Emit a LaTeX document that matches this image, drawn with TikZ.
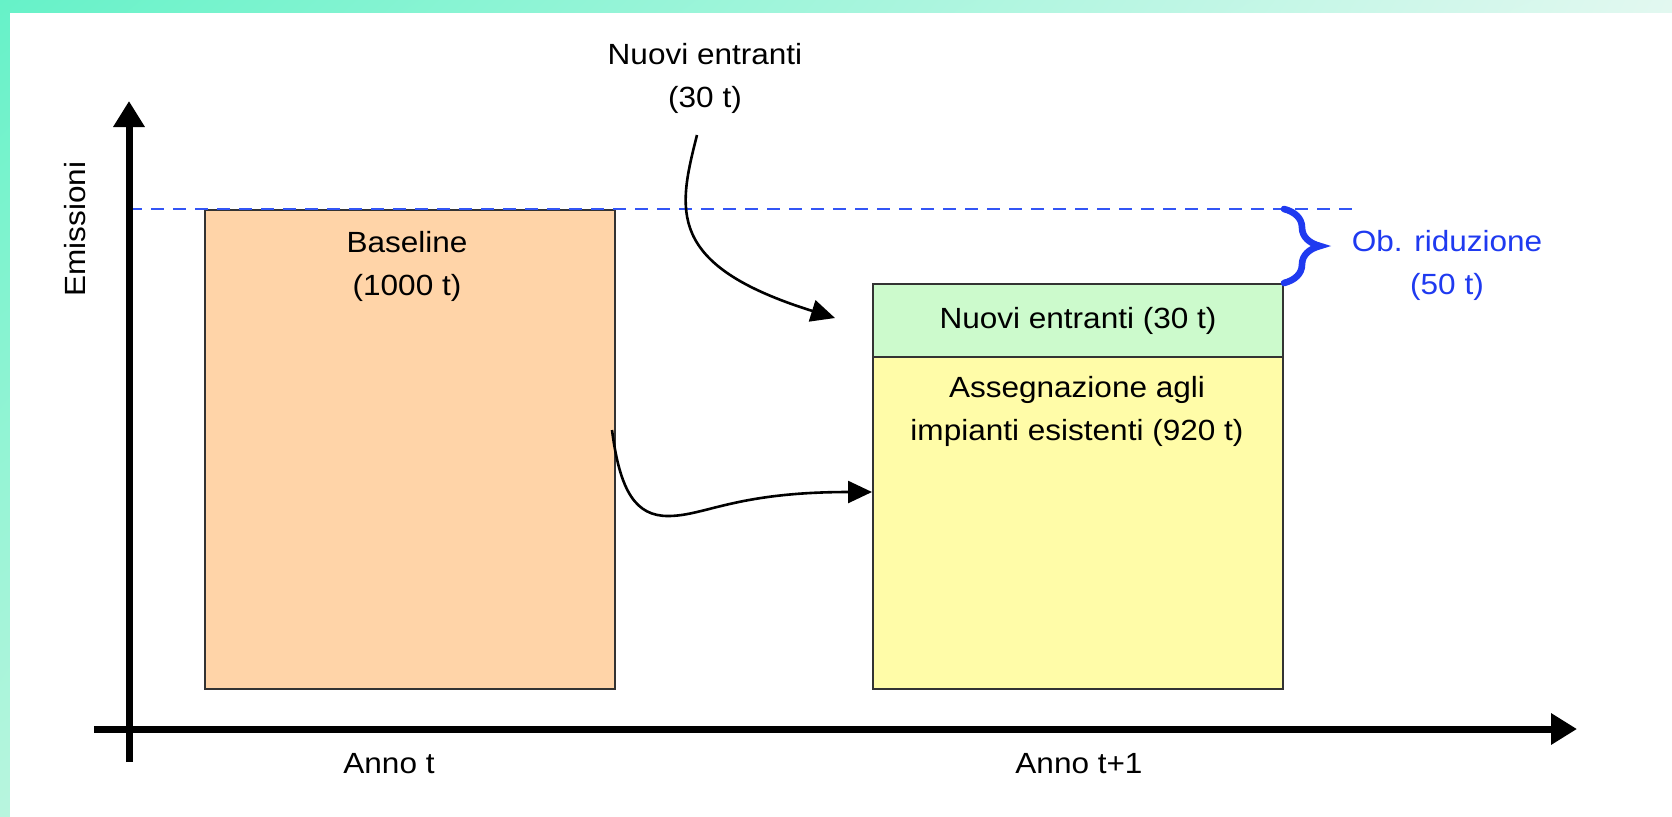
\documentclass[tikz,border=0pt]{standalone}
\usepackage{fontspec}
\setmainfont{Liberation Sans}[FakeStretch=1.08]
\usetikzlibrary{arrows.meta,decorations.pathreplacing,shadings}
\definecolor{peach}{HTML}{FFD4A8}
\definecolor{mint}{HTML}{CCFACC}
\definecolor{lemon}{HTML}{FFFCA8}
\definecolor{dashblue}{HTML}{3355F5}
\definecolor{obblue}{HTML}{1F3AF0}
\definecolor{frameA}{HTML}{66F2C8}
\definecolor{frameB}{HTML}{B8F5DE}
\definecolor{frameC}{HTML}{E2F8F0}
\begin{document}
\begin{tikzpicture}[x=0.5pt,y=-0.5pt,
  txt/.style={font=\fontsize{14.6}{21.5}\selectfont, align=center, inner sep=0pt},
  bar/.style={draw=black!80, line width=1pt, inner sep=0pt, anchor=north west, minimum width=205pt},
  axis/.style={line width=3.5pt, -{Triangle[length=13pt,width=15pt]}},
  flow/.style={line width=1.3pt, -{Triangle[length=12pt,width=11pt]}},
  limit/.style={dashblue, line width=1.2pt, dash pattern=on 6.5pt off 4.5pt},
]
\useasboundingbox (0,0) rectangle (1672,816);
% slide frame: shaded band on the top and left edges
\shade[upper left=frameA, upper right=frameC, lower left=frameB, lower right=white] (0,0) rectangle (1672,816);
\fill[white] (10,13) rectangle (1690,830);

% bars
\node[bar, fill=peach, minimum height=239.5pt] (base) at (204,209) {};
\node[bar, fill=mint, minimum height=36.5pt, font=\fontsize{14.6}{20}\selectfont] (nb) at (872,283) {Nuovi entranti (30 t)};
\node[bar, fill=lemon, minimum height=166pt] (yel) at (872,356) {};

% baseline level
\coordinate (d0) at (129,209);
\coordinate (d1) at (1354,209);
\draw[limit] (d0) -- (d1);

% axes
\coordinate (yb) at (129,762);
\coordinate (yt) at (129,101);
\coordinate (xl) at (94,729);
\coordinate (xr) at (1577,729);
\draw[axis] (yb) -- (yt);
\draw[axis] (xl) -- (xr);

% labels
\node[txt, rotate=90] (em) at (75,229) {Emissioni};
\node[txt] (lab) at (705,78) {Nuovi entranti\\(30 t)};
\node[txt] (baseT) at (407,266) {Baseline\\(1000 t)};
\node[txt] (yelT) at (1077,411) {Assegnazione agli\\impianti esistenti (920 t)};
\node[txt, text=obblue] (ob) at (1447,265) {Ob. riduzione\\(50 t)};
\node[txt] (a1) at (389,764) {Anno t};
\node[txt] (a2) at (1079,764) {Anno t+1};

% flows
\coordinate (n0) at (697,135);
\coordinate (n1) at (835,318);
\draw[flow] (n0) .. controls (678,210) and (665,265) .. (n1);
\coordinate (b0) at (612,430);
\coordinate (b1) at (872,492);
\draw[flow] (b0) .. controls (620,492) and (636,516) .. (668,516)
  .. controls (705,516) and (735,492) .. (b1);

% reduction target brace
\coordinate (r0) at (1284,209);
\coordinate (r1) at (1284,283);
\draw[obblue, line width=3.3pt, line cap=round, decorate, decoration={brace, amplitude=18pt}] (r0) -- (r1);
\end{tikzpicture}
\end{document}
